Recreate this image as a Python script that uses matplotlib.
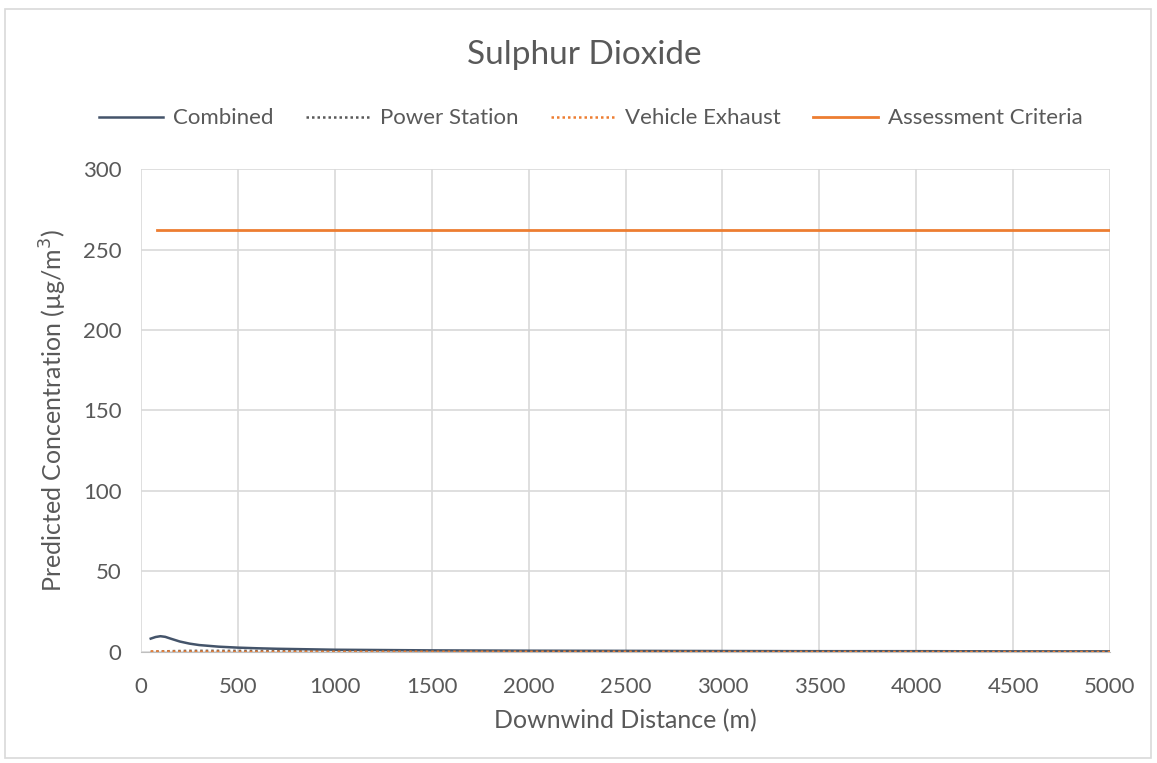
import numpy as np
import matplotlib.pyplot as plt
from matplotlib.patches import Rectangle

plt.rcParams['font.family'] = ['Lato', 'DejaVu Sans']

# downwind distance (m)
distance = [50, 75, 100, 125, 150, 200, 250, 300, 400, 500, 600, 700, 800,
            1000, 1250, 1500, 2000, 2500, 3000, 3500, 4000, 4500, 5000]
combined = [8.3, 9.3, 9.8, 9.4, 8.4, 6.5, 5.2, 4.3, 3.3, 2.7, 2.3, 2.0, 1.8,
            1.4, 1.2, 1.0, 0.8, 0.7, 0.6, 0.5, 0.5, 0.4, 0.4]
power_station = [0.1, 0.2, 0.3, 0.4, 0.5, 0.6, 0.7, 0.7, 0.7, 0.7, 0.6, 0.6, 0.5,
                 0.5, 0.4, 0.4, 0.3, 0.3, 0.3, 0.2, 0.2, 0.2, 0.2]
vehicle_exhaust = [0.3, 0.3, 0.3, 0.3, 0.3, 0.2, 0.2, 0.2, 0.2, 0.1, 0.1, 0.1, 0.1,
                   0.1, 0.1, 0.1, 0.1, 0.1, 0.0, 0.0, 0.0, 0.0, 0.0]
criteria_distance = [80, 5000]
criteria = [262, 262]

fig = plt.figure(figsize=(11.57, 7.63), dpi=100)
fig.patches.append(Rectangle((0.004, 0.006), 0.991, 0.982, transform=fig.transFigure,
                             fill=False, edgecolor='#D9D9D9', linewidth=1.2))
ax = fig.add_axes([0.1219, 0.1455, 0.8375, 0.633])

ax.plot(distance, combined, color='#44546A', lw=1.8, label='Combined')
ax.plot(distance, power_station, color='#595959', lw=1.8, ls=(0, (1, 1.2)), label='Power Station')
ax.plot(distance, vehicle_exhaust, color='#ED7D31', lw=1.8, ls=(0, (1, 1.2)), label='Vehicle Exhaust')
ax.plot(criteria_distance, criteria, color='#ED7D31', lw=2, label='Assessment Criteria')

ax.set_xlim(0, 5000)
ax.set_ylim(0, 300)
ax.set_xticks(np.arange(0, 5001, 500))
ax.set_yticks(np.arange(0, 301, 50))
ax.grid(True, color='#D9D9D9', lw=1.2)
ax.set_axisbelow(True)
for s in ['top', 'right', 'left']:
    ax.spines[s].set_visible(False)
ax.spines['bottom'].set_color('#BFBFBF')
ax.tick_params(length=0, labelsize=16, colors='#595959')
ax.tick_params(axis='x', pad=18)
ax.tick_params(axis='y', pad=14)

ax.set_xlabel('Downwind Distance (m)', fontsize=18, color='#595959', labelpad=9)
ax.set_ylabel('Predicted Concentration (µg/m$^3$)', fontsize=18, color='#595959', labelpad=10)
fig.text(0.505, 0.928, 'Sulphur Dioxide', ha='center', va='center', fontsize=24, color='#595959')

ax.legend(loc='center', bbox_to_anchor=(0.464, 1.105), ncol=4, frameon=False, fontsize=16,
          handlelength=2.9, handletextpad=0.45, columnspacing=1.45, labelcolor='#595959')

fig.savefig('out.png', dpi=100)
